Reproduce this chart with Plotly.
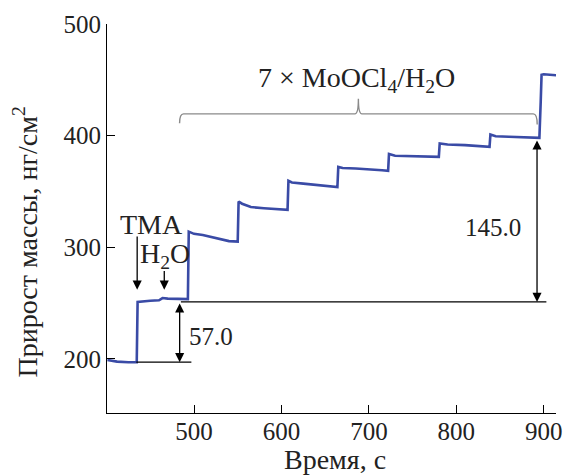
import plotly.graph_objects as go

# Data
time_s = [401, 405, 412, 425, 434.5, 435.5, 440, 450, 460, 464, 470, 480, 493,
          494, 500, 510, 520, 530, 540, 550,
          551, 555, 565, 580, 595, 607,
          608, 612, 625, 640, 655, 664,
          665, 670, 685, 700, 715, 722,
          723, 730, 750, 765, 780,
          781, 790, 810, 825, 838,
          839, 845, 860, 880, 895,
          896.5, 897.5, 900, 915]
mass = [199, 198.5, 197.5, 197, 197, 251, 251.5, 252, 252.5, 254.5, 254, 254, 253.5,
        314, 312, 311, 309, 307, 305.5, 305,
        341, 339, 336, 335, 334, 333.5,
        359.5, 358, 357, 356, 354.5, 354,
        372, 371, 370.5, 370, 369, 368.5,
        383.5, 382, 381.5, 381.5, 381,
        393, 392, 391.5, 391, 390,
        401, 399.5, 399, 398.5, 398,
        430, 454.5, 455, 454]

x_ticks = [500, 600, 700, 800, 900]
y_ticks = [200, 300, 400, 500]

# annotation values
base_level = 197
tma_level = 251
final_level = 397
delta_tma = "57.0"
delta_total = "145.0"

FONT = "Liberation Serif"
TXT = "#222222"

fig = go.Figure()
fig.add_trace(go.Scatter(x=time_s, y=mass, mode="lines",
                         line=dict(color="#3a4ba6", width=2.6), showlegend=False))

shapes = [
    dict(type="line", xref="x", yref="y", x0=434, x1=497, y0=base_level, y1=base_level,
         line=dict(color="black", width=1.3)),
    dict(type="line", xref="x", yref="y", x0=485, x1=903, y0=tma_level, y1=tma_level,
         line=dict(color="black", width=1.3)),
    dict(type="path", xref="x", yref="y",
         path="M 483.5,411 Q 483.5,419.5 488,419.5 L 684,419.5 Q 688,419.5 688,433 "
              "Q 688,419.5 692,419.5 L 888,419.5 Q 892.5,419.5 892.5,410",
         line=dict(color="#8a8a8a", width=1.4)),
]

ann = []
arrow_style = dict(xref="x", yref="y", axref="x", ayref="y", showarrow=True, arrowhead=2,
                   arrowsize=1.4, arrowwidth=1.3, arrowcolor="black", text="")
# TMA arrow
ann.append(dict(x=435, y=262, ax=435, ay=311, **arrow_style))
# H2O arrow
ann.append(dict(x=466, y=262, ax=466, ay=280, **arrow_style))
# 57 double arrow
ann.append(dict(x=483.6, y=base_level, ax=483.6, ay=tma_level, startarrowhead=2,
                arrowside="end+start", startarrowsize=1.4, **arrow_style))
# 145 double arrow
ann.append(dict(x=892.3, y=tma_level, ax=892.3, ay=final_level, startarrowhead=2,
                arrowside="end+start", startarrowsize=1.4, **arrow_style))

nfont = dict(family=FONT, size=25, color=TXT)
tfont = dict(family=FONT, size=28, color=TXT)
center = dict(showarrow=False, xanchor="center", yanchor="middle")
# texts
ann.append(dict(x=451, y=320, xref="x", yref="y", text="TMA", font=tfont, **center))
ann.append(dict(x=467, y=293, xref="x", yref="y", text="H<sub>2</sub>O", font=tfont, **center))
ann.append(dict(x=519, y=220, xref="x", yref="y", text=delta_tma, font=nfont, **center))
ann.append(dict(x=842.5, y=318, xref="x", yref="y", text=delta_total, font=nfont, **center))
ann.append(dict(x=686, y=450, xref="x", yref="y",
                text="7 × MoOCl<sub>4</sub>/H<sub>2</sub>O", font=tfont, **center))
# axis titles
ann.append(dict(x=-0.181, y=0.44, xref="paper", yref="paper", text="Прирост массы, нг/см<sup>2</sup>",
                textangle=-90, font=tfont, **center))
ann.append(dict(x=0.507, y=-0.12, xref="paper", yref="paper", text="Время, с",
                font=tfont, **center))

fig.update_layout(
    width=569, height=475,
    margin=dict(l=107, r=7, t=24, b=62),
    paper_bgcolor="white", plot_bgcolor="white",
    shapes=shapes, annotations=ann,
    font=dict(family=FONT, size=25, color=TXT),
)
fig.update_xaxes(range=[400.5, 914], tickvals=x_ticks, ticks="inside", ticklen=8, tickwidth=1,
                 tickcolor="black", showline=True, linecolor="black", linewidth=1,
                 ticklabelstandoff=-4,
                 showgrid=False, zeroline=False, tickfont=nfont)
fig.update_yaxes(range=[151.5, 500], tickvals=y_ticks, ticks="inside", ticklen=8, tickwidth=1,
                 tickcolor="black", showline=True, linecolor="black", linewidth=1,
                 showgrid=False, zeroline=False, tickfont=nfont)

fig.write_html("out.html")
